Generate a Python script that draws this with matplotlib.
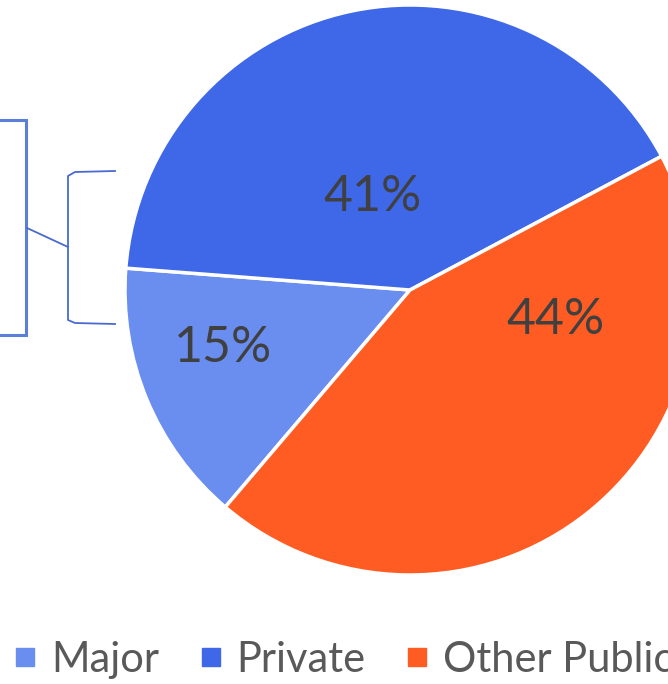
import matplotlib
matplotlib.use("Agg")
import matplotlib.pyplot as plt
from matplotlib.lines import Line2D

categories = ["Major", "Private", "Other Public"]
shares = [15, 41, 44]
colors = ["#6A8DF0", "#3F68E8", "#FF5C23"]
pct_labels = ["15%", "41%", "44%"]

W, H = 668, 684
fig = plt.figure(figsize=(W / 100, H / 100), dpi=100)
ax = fig.add_axes([0, 0, 1, 1])

cx, cy, R = 410, H - 290, 285
start = 180 + 49.6  # boundary between Other Public and Major
wedges, _ = ax.pie(shares, colors=colors, startangle=start, counterclock=False,
                   center=(cx, cy), radius=R, frame=True,
                   wedgeprops=dict(edgecolor="white", linewidth=2.5))
ax.set_xlim(0, W)
ax.set_ylim(0, H)
ax.set_aspect("equal")
ax.axis("off")

# label offsets (in pie-radius units) relative to centre
label_pos = [(-0.656, -0.204), (-0.13, 0.326), (0.51, -0.105)]
for lab, (dx, dy) in zip(pct_labels, label_pos):
    ax.text(cx + dx * R, cy + dy * R, lab, ha="center", va="center",
            fontsize=36, color="#404040", family="Lato")

# callout box and bracket on the left
box_c = "#5B7FD8"
ax.plot([-5, 26, 26, -5], [H - 120, H - 120, H - 335, H - 335], color=box_c, lw=2.2,
        solid_joinstyle="miter", clip_on=False)
br_c = "#4A6AD0"
ax.plot([115, 75, 68, 68, 75, 115], [H - 171, H - 172, H - 176, H - 320, H - 323, H - 324],
        color=br_c, lw=1.3)
ax.plot([27, 68], [H - 228, H - 247], color=br_c, lw=1.3)

handles = [Line2D([], [], linestyle="none", marker="s", markersize=13,
                  markerfacecolor=c, markeredgecolor=c) for c in colors]
fig.legend(handles, categories, loc="center left", bbox_to_anchor=(12.5 / W, 1 - 660 / H),
           ncol=3, frameon=False, handlelength=0.6, handletextpad=0.33,
           columnspacing=0.93, borderpad=0, borderaxespad=0,
           prop=dict(family="Lato", size=30), labelcolor="#595959")

fig.savefig("out.png", dpi=100)
